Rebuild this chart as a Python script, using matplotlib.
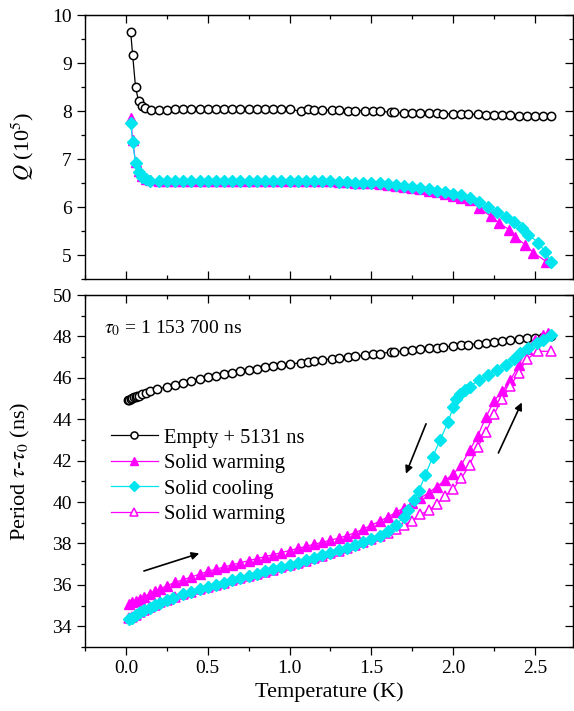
import matplotlib
matplotlib.use("Agg")
import matplotlib.pyplot as plt
from matplotlib.ticker import MultipleLocator, NullFormatter

plt.rcParams['font.family'] = ['Liberation Serif', 'DejaVu Serif']
plt.rcParams['mathtext.fontset'] = 'stix'

# ---------------- data: top panel (Q) ----------------
q_empty_T = [0.029, 0.041, 0.059, 0.077, 0.096, 0.114, 0.151, 0.20, 0.25, 0.30, 0.35, 0.40, 0.45,
             0.50, 0.55, 0.60, 0.65, 0.70, 0.75, 0.80, 0.85, 0.90, 0.95, 1.00, 1.07, 1.11, 1.15,
             1.20, 1.26, 1.30, 1.36, 1.40, 1.46, 1.51, 1.55, 1.62, 1.64, 1.70, 1.75, 1.80, 1.85,
             1.90, 1.94, 2.00, 2.05, 2.09, 2.15, 2.20, 2.25, 2.30, 2.35, 2.40, 2.45, 2.50, 2.55, 2.60]
q_empty = [9.65, 9.17, 8.49, 8.21, 8.10, 8.06, 8.02, 8.02, 8.03, 8.04, 8.05, 8.05, 8.05,
           8.05, 8.05, 8.05, 8.05, 8.05, 8.05, 8.05, 8.05, 8.04, 8.04, 8.04, 7.99, 8.04, 8.03,
           8.02, 8.02, 8.02, 8.01, 8.01, 8.01, 8.00, 8.00, 7.97, 7.97, 7.96, 7.96, 7.95, 7.95,
           7.95, 7.94, 7.94, 7.93, 7.93, 7.93, 7.92, 7.92, 7.91, 7.91, 7.90, 7.90, 7.90, 7.89, 7.89]

q_warm_T = [0.029, 0.041, 0.059, 0.077, 0.096, 0.12, 0.15, 0.20, 0.25, 0.30, 0.35, 0.40, 0.45,
            0.50, 0.55, 0.60, 0.65, 0.70, 0.75, 0.80, 0.85, 0.90, 0.95, 1.00, 1.05, 1.10, 1.15,
            1.20, 1.25, 1.30, 1.35, 1.40, 1.45, 1.50, 1.55, 1.60, 1.65, 1.70, 1.75, 1.80, 1.85,
            1.90, 1.95, 2.00, 2.05, 2.10, 2.16, 2.23, 2.28, 2.34, 2.38, 2.44, 2.49, 2.57]
q_warm = [7.85, 7.40, 6.93, 6.74, 6.65, 6.59, 6.56, 6.55, 6.55, 6.55, 6.55, 6.55, 6.55,
          6.55, 6.55, 6.55, 6.55, 6.55, 6.55, 6.55, 6.55, 6.55, 6.55, 6.55, 6.55, 6.55, 6.55,
          6.55, 6.54, 6.53, 6.52, 6.51, 6.50, 6.49, 6.47, 6.46, 6.44, 6.42, 6.40, 6.37, 6.34,
          6.31, 6.27, 6.23, 6.19, 6.15, 5.97, 5.81, 5.67, 5.53, 5.38, 5.21, 5.05, 4.86]

q_cool_T = [0.030, 0.041, 0.059, 0.077, 0.096, 0.12, 0.15, 0.20, 0.25, 0.30, 0.35, 0.40, 0.45,
            0.50, 0.55, 0.60, 0.65, 0.70, 0.75, 0.80, 0.85, 0.90, 0.95, 1.00, 1.05, 1.10, 1.15,
            1.20, 1.25, 1.30, 1.35, 1.40, 1.45, 1.50, 1.55, 1.60, 1.65, 1.70, 1.75, 1.80, 1.85,
            1.90, 1.95, 2.00, 2.05, 2.10, 2.16, 2.21, 2.265, 2.32, 2.37, 2.42, 2.46, 2.52, 2.56, 2.60]
q_cool = [7.74, 7.36, 6.91, 6.72, 6.63, 6.58, 6.55, 6.55, 6.55, 6.55, 6.55, 6.55, 6.55,
          6.55, 6.55, 6.55, 6.55, 6.55, 6.55, 6.55, 6.55, 6.55, 6.55, 6.55, 6.55, 6.55, 6.55,
          6.55, 6.54, 6.53, 6.52, 6.51, 6.51, 6.50, 6.49, 6.48, 6.46, 6.44, 6.42, 6.40, 6.37,
          6.34, 6.31, 6.28, 6.24, 6.19, 6.10, 6.01, 5.90, 5.79, 5.69, 5.56, 5.42, 5.26, 5.07, 4.86]

# ---------------- data: bottom panel (period) ----------------
p_empty_T = [0.014, 0.02, 0.03, 0.04, 0.05, 0.06, 0.07, 0.08, 0.10, 0.12, 0.15, 0.19, 0.25, 0.30,
             0.35, 0.40, 0.45, 0.50, 0.55, 0.60, 0.65, 0.70, 0.75, 0.80, 0.85, 0.90, 0.95, 1.00,
             1.07, 1.11, 1.15, 1.20, 1.26, 1.30, 1.36, 1.40, 1.46, 1.51, 1.55, 1.62, 1.64, 1.70,
             1.75, 1.80, 1.85, 1.90, 1.94, 2.00, 2.05, 2.09, 2.15, 2.20, 2.25, 2.30, 2.35, 2.40,
             2.45, 2.50, 2.55, 2.60]
p_empty = [44.92, 44.95, 44.98, 45.02, 45.05, 45.08, 45.11, 45.14, 45.20, 45.26, 45.34, 45.45, 45.57, 45.67,
           45.76, 45.85, 45.95, 46.04, 46.11, 46.18, 46.25, 46.33, 46.39, 46.45, 46.51, 46.57, 46.62, 46.67,
           46.72, 46.77, 46.82, 46.87, 46.92, 46.96, 47.01, 47.04, 47.09, 47.13, 47.17, 47.24, 47.25, 47.31,
           47.35, 47.39, 47.43, 47.46, 47.49, 47.53, 47.57, 47.60, 47.65, 47.69, 47.74, 47.78, 47.82, 47.86,
           47.90, 47.93, 47.97, 48.02]

p_warm_T = [0.02, 0.04, 0.06, 0.086, 0.11, 0.147, 0.18, 0.21, 0.25, 0.30, 0.35, 0.40, 0.45, 0.50,
            0.55, 0.60, 0.65, 0.70, 0.75, 0.80, 0.85, 0.90, 0.95, 1.00, 1.05, 1.10, 1.15, 1.20,
            1.25, 1.30, 1.35, 1.40, 1.45, 1.50, 1.55, 1.60, 1.65, 1.70, 1.75, 1.80, 1.85, 1.90,
            1.95, 2.00, 2.05, 2.10, 2.15, 2.20, 2.25, 2.30, 2.35, 2.40, 2.45, 2.50, 2.55, 2.58]
p_warm = [35.06, 35.15, 35.22, 35.30, 35.42, 35.58, 35.70, 35.82, 35.96, 36.12, 36.25, 36.38, 36.52, 36.65,
          36.76, 36.86, 36.97, 37.07, 37.17, 37.27, 37.36, 37.46, 37.56, 37.66, 37.76, 37.86, 37.96, 38.06,
          38.16, 38.26, 38.38, 38.52, 38.70, 38.88, 39.08, 39.28, 39.50, 39.72, 39.95, 40.20, 40.45, 40.75,
          41.05, 41.35, 41.80, 42.50, 43.20, 44.10, 44.90, 45.35, 45.90, 46.60, 47.40, 47.85, 48.05, 48.15]

p_cool_T = [0.02, 0.035, 0.06, 0.086, 0.11, 0.147, 0.18, 0.21, 0.25, 0.29, 0.35, 0.40, 0.45, 0.50,
            0.55, 0.60, 0.65, 0.70, 0.75, 0.80, 0.85, 0.90, 0.95, 1.00, 1.05, 1.10, 1.15, 1.20,
            1.25, 1.30, 1.35, 1.40, 1.45, 1.50, 1.55, 1.60, 1.65, 1.70, 1.725, 1.76, 1.79, 1.83,
            1.875, 1.92, 1.97, 2.00, 2.02, 2.04, 2.07, 2.10, 2.16, 2.215, 2.27, 2.32, 2.37, 2.41,
            2.46, 2.51, 2.55, 2.60]
p_cool = [34.35, 34.42, 34.55, 34.67, 34.77, 34.90, 35.02, 35.13, 35.27, 35.38, 35.55, 35.66, 35.78, 35.89,
          36.00, 36.10, 36.22, 36.33, 36.44, 36.54, 36.65, 36.76, 36.87, 36.98, 37.08, 37.20, 37.32, 37.44,
          37.55, 37.67, 37.80, 37.93, 38.08, 38.20, 38.36, 38.58, 38.90, 39.30, 39.64, 40.10, 40.55, 41.30,
          42.20, 43.00, 43.89, 44.60, 45.00, 45.20, 45.42, 45.58, 45.90, 46.14, 46.39, 46.63, 46.90, 47.19,
          47.43, 47.67, 47.83, 48.07]

p_warm2_T = [0.02, 0.04, 0.06, 0.086, 0.11, 0.147, 0.18, 0.21, 0.25, 0.30, 0.35, 0.40, 0.45, 0.50,
             0.55, 0.60, 0.65, 0.70, 0.75, 0.80, 0.85, 0.90, 0.95, 1.00, 1.05, 1.10, 1.15, 1.20,
             1.25, 1.30, 1.35, 1.40, 1.45, 1.50, 1.55, 1.60, 1.65, 1.70, 1.75, 1.80, 1.85, 1.90,
             1.95, 2.00, 2.05, 2.10, 2.15, 2.20, 2.25, 2.30, 2.35, 2.40, 2.45, 2.52, 2.60]
p_warm2 = [34.38, 34.45, 34.55, 34.68, 34.78, 34.92, 35.04, 35.15, 35.28, 35.42, 35.55, 35.67, 35.78, 35.90,
           36.00, 36.10, 36.22, 36.32, 36.42, 36.53, 36.64, 36.74, 36.84, 36.95, 37.06, 37.17, 37.28, 37.40,
           37.52, 37.64, 37.77, 37.91, 38.06, 38.20, 38.36, 38.52, 38.70, 38.90, 39.10, 39.40, 39.60, 39.90,
           40.30, 40.65, 41.15, 41.80, 42.65, 43.40, 44.25, 45.00, 45.60, 46.25, 46.90, 47.28, 47.28]

legend_labels = ['Empty + 5131 ns', 'Solid warming', 'Solid cooling', 'Solid warming']
tau0_text = r'$\tau_0$ = 1 153 700 ns'

MAG = '#ff00ff'
CYA = '#00e5ee'

W, H = 574, 711
fig = plt.figure(figsize=(W / 100, H / 100), dpi=100)
left = 85 / W
width = (573 - 85) / W
ax1 = fig.add_axes([left, 1 - 279 / H, width, (279 - 15) / H])
ax2 = fig.add_axes([left, 1 - 647 / H, width, (647 - 295) / H])

lw = 0.9
# top panel
ax1.plot(q_empty_T, q_empty, '-', color='k', lw=lw, marker='o', ms=6, mfc='white', mec='k', mew=1.1, zorder=3)
ax1.plot(q_warm_T, q_warm, '-', color=MAG, lw=lw, marker='^', ms=7.5, mfc=MAG, mec=MAG, zorder=3)
ax1.plot(q_cool_T, q_cool, '-', color=CYA, lw=lw, marker='D', ms=6.3, mfc=CYA, mec=CYA, zorder=4)

# bottom panel
h1, = ax2.plot(p_empty_T, p_empty, '-', color='k', lw=lw, marker='o', ms=6, mfc='white', mec='k', mew=1.1, zorder=3)
h2, = ax2.plot(p_warm_T, p_warm, '-', color=MAG, lw=lw, marker='^', ms=7.5, mfc=MAG, mec=MAG, zorder=3)
h4, = ax2.plot(p_warm2_T, p_warm2, '-', color=MAG, lw=lw, marker='^', ms=7.5, mfc='white', mec=MAG, mew=1.1, zorder=3)
h3, = ax2.plot(p_cool_T, p_cool, '-', color=CYA, lw=lw, marker='D', ms=6.3, mfc=CYA, mec=CYA, zorder=4)

leg = ax2.legend([h1, h2, h3, h4], legend_labels, loc='upper left', bbox_to_anchor=(0.036, 0.645),
                 frameon=False, fontsize=14.8, handlelength=2.3, handletextpad=0.3, labelspacing=0.3,
                 borderaxespad=0, markerscale=0.85)

ax2.text(0.038, 0.905, tau0_text, transform=ax2.transAxes, fontsize=14, ha='left', va='center')

arrow_kw = dict(arrowstyle='-|>', color='k', lw=1.2, mutation_scale=11, shrinkA=0, shrinkB=0)
ax2.annotate('', xy=(0.448, 37.52), xytext=(0.11, 36.67), arrowprops=arrow_kw)
ax2.annotate('', xy=(1.711, 41.37), xytext=(1.834, 43.78), arrowprops=arrow_kw)
ax2.annotate('', xy=(2.419, 44.81), xytext=(2.276, 42.37), arrowprops=arrow_kw)

for ax in (ax1, ax2):
    ax.set_xlim(-0.25, 2.732)
    ax.xaxis.set_major_locator(MultipleLocator(0.5))
    ax.xaxis.set_minor_locator(MultipleLocator(0.25))
    for s in ax.spines.values():
        s.set_linewidth(1.0)
    ax.tick_params(axis='y', which='both', direction='out', right=False, labelsize=14, width=0.9)
    ax.tick_params(axis='y', which='major', length=6)
    ax.tick_params(axis='y', which='minor', length=3)
    sy = ax.secondary_yaxis('right')
    sy.tick_params(axis='y', which='both', direction='in', labelright=False, width=0.9)
    sy.tick_params(which='major', length=6)
    sy.tick_params(which='minor', length=3)
    sx = ax.secondary_xaxis('top')
    sx.xaxis.set_major_locator(MultipleLocator(0.5))
    sx.xaxis.set_minor_locator(MultipleLocator(0.25))
    sx.tick_params(axis='x', which='both', direction='in', labeltop=False, width=0.9)
    sx.tick_params(which='major', length=6)
    sx.tick_params(which='minor', length=3)
    ax._sy = sy

ax1.set_ylim(4.5, 10)
ax1.yaxis.set_major_locator(MultipleLocator(1))
ax1.yaxis.set_minor_locator(MultipleLocator(0.5))
ax1._sy.yaxis.set_major_locator(MultipleLocator(1))
ax1._sy.yaxis.set_minor_locator(MultipleLocator(0.5))
ax1.tick_params(axis='x', which='both', direction='in', labelbottom=False, top=False, width=0.9)
ax1.tick_params(axis='x', which='major', length=6)
ax1.tick_params(axis='x', which='minor', length=3)
ax1.set_ylabel(r'$Q$ (10$^5$)', fontsize=16)
ax1.yaxis.set_label_coords(-0.1, 0.5)

ax2.set_ylim(33, 50)
ax2.yaxis.set_major_locator(MultipleLocator(2))
ax2.yaxis.set_minor_locator(MultipleLocator(1))
ax2._sy.yaxis.set_major_locator(MultipleLocator(2))
ax2._sy.yaxis.set_minor_locator(MultipleLocator(1))
ax2.tick_params(axis='x', which='both', direction='out', top=False, labelsize=14, width=0.9)
ax2.tick_params(axis='x', which='major', length=6)
ax2.tick_params(axis='x', which='minor', length=3)
ax2.xaxis.set_major_formatter(matplotlib.ticker.FormatStrFormatter('%.1f'))
ax2.set_ylabel(r'Period $\tau$-$\tau_0$ (ns)', fontsize=16)
ax2.yaxis.set_label_coords(-0.108, 0.5)
ax2.set_xlabel('Temperature (K)', fontsize=16, labelpad=4)

fig.savefig('out.png', dpi=100)
